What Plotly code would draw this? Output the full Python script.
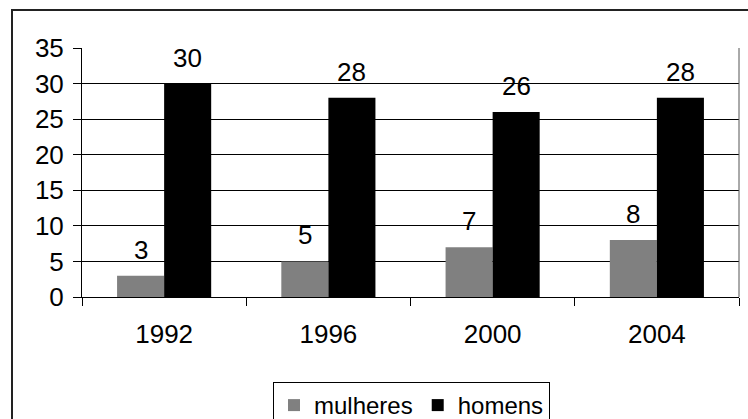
import plotly.graph_objects as go

years = ["1992", "1996", "2000", "2004"]
mulheres = [3, 5, 7, 8]
homens = [30, 28, 26, 28]
y_ticks = [0, 5, 10, 15, 20, 25, 30, 35]

W, H = 748, 419
L, R, T, B = 82, 9, 48, 122
pw, ph = W - L - R, H - T - B
bargap = 0.427
bar_px = pw / len(years) * (1 - bargap) / 2

FONT = dict(family="Liberation Sans, Arial, sans-serif", size=26, color="black")
LEG_FONT = dict(family="Liberation Sans, Arial, sans-serif", size=24, color="black")

fig = go.Figure()
fig.add_trace(go.Bar(x=years, y=mulheres, name="mulheres", marker=dict(color="#808080", line=dict(width=0))))
fig.add_trace(go.Bar(x=years, y=homens, name="homens", marker=dict(color="#000000", line=dict(width=0))))

annotations = []
for i, yr in enumerate(years):
    for val, sh in ((mulheres[i], -bar_px / 2), (homens[i], bar_px / 2)):
        annotations.append(dict(x=i, y=val, xref="x", yref="y", text=str(val), showarrow=False,
                                xanchor="center", yanchor="bottom", xshift=sh, yshift=9,
                                font=FONT))

shapes = [
    dict(type="rect", xref="paper", yref="paper",
         x0=(12 - L) / pw, x1=(W + 10 - L) / pw,
         y0=-(H + 10 - T - ph) / ph, y1=1 + (T - 10) / ph,
         line=dict(color="#222222", width=2), layer="below"),
    dict(type="line", xref="paper", yref="paper", x0=1, x1=1, y0=0, y1=1,
         line=dict(color="#555555", width=1)),
]

fig.update_layout(
    width=W, height=H,
    margin=dict(l=L, r=R, t=T, b=B, pad=0, autoexpand=False),
    paper_bgcolor="white", plot_bgcolor="white",
    barmode="group", bargap=bargap, bargroupgap=0,
    font=FONT,
    showlegend=True,
    legend=dict(orientation="h", x=(273 - L) / pw, xanchor="left",
                y=-(382 - T - ph) / ph, yanchor="top",
                bordercolor="black", borderwidth=1, font=LEG_FONT,
                tracegroupgap=0, bgcolor="white", itemwidth=30),
    annotations=annotations,
    shapes=shapes,
)
fig.update_xaxes(type="category", range=[-0.5, len(years) - 0.5], autorange=False,
                 showline=True, linecolor="black", linewidth=1,
                 ticks="outside", ticklen=8, tickcolor="black", tickson="boundaries",
                 showgrid=False, tickfont=FONT, ticklabelstandoff=14, tickangle=0,
                 automargin=False)
fig.update_yaxes(range=[0, 35], autorange=False, tickvals=y_ticks, showline=True,
                 linecolor="black", linewidth=1,
                 ticks="outside", ticklen=8, tickcolor="black", ticklabelstandoff=4,
                 showgrid=True, gridcolor="black", gridwidth=1, zeroline=False,
                 tickfont=FONT, automargin=False)

fig.write_html("out.html", config={"displayModeBar": False},
               post_script="document.body.style.margin='0';")
